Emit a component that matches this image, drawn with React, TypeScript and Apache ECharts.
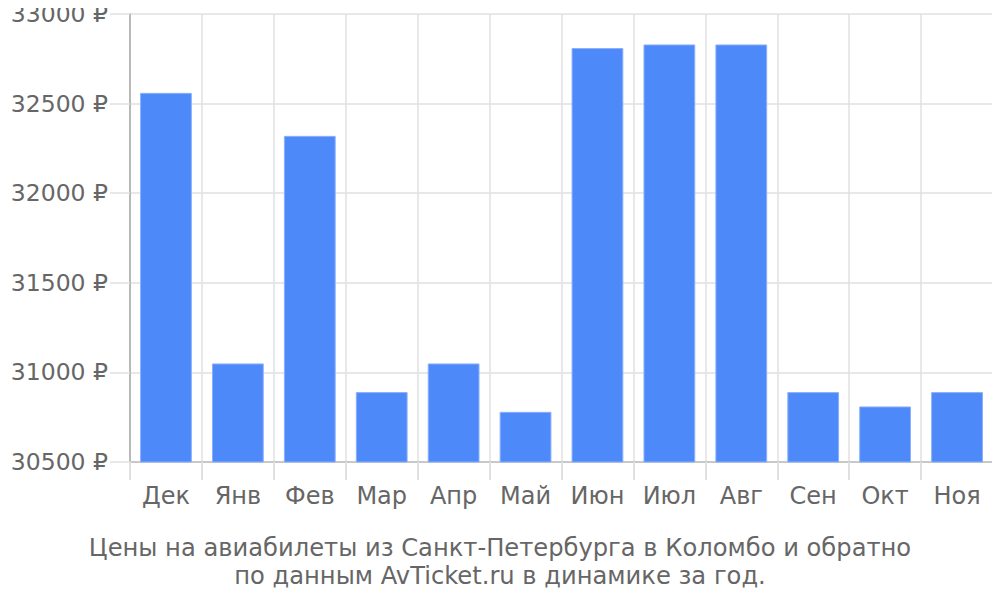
import { useEffect, useRef } from 'react';
import * as echarts from 'echarts';

const months = ['Дек', 'Янв', 'Фев', 'Мар', 'Апр', 'Май', 'Июн', 'Июл', 'Авг', 'Сен', 'Окт', 'Ноя'];
const prices = [32560, 31050, 32320, 30890, 31050, 30780, 32810, 32830, 32830, 30890, 30810, 30890];
const yMin = 30500;
const yMax = 33000;
const yStep = 500;
const titleLines = [
  'Цены на авиабилеты из Санкт-Петербурга в Коломбо и обратно',
  'по данным AvTicket.ru в динамике за год.',
];

const FONT = '"DejaVu Sans", sans-serif';

export default function App() {
  const chartRef = useRef<HTMLDivElement>(null);

  useEffect(() => {
    if (!chartRef.current) return;
    const chart = echarts.init(chartRef.current, undefined, { renderer: 'svg' });

    const option: echarts.EChartsOption = {
      animation: false,
      backgroundColor: '#ffffff',
      textStyle: { fontFamily: FONT },
      title: {
        text: titleLines.join('\n'),
        left: 'center',
        top: 529,
        textStyle: {
          color: '#666666',
          fontSize: 24.2,
          fontWeight: 'normal',
          fontFamily: FONT,
          lineHeight: 28,
          align: 'center',
        },
      },
      grid: { left: 130, right: 7, top: 14, bottom: 138 },
      xAxis: {
        type: 'category',
        data: months,
        axisLine: { lineStyle: { color: '#c8c8c8', width: 2 } },
        axisTick: { show: true, length: 18, interval: 0, lineStyle: { color: '#e0e0e0', width: 2 } },
        splitLine: { show: true, interval: 0, lineStyle: { color: '#e0e0e0', width: 1.5 } },
        axisLabel: { color: '#666666', fontSize: 24, fontFamily: FONT, margin: 22, interval: 0 },
      },
      yAxis: {
        type: 'value',
        min: yMin,
        max: yMax,
        interval: yStep,
        axisLine: { show: true, lineStyle: { color: '#aaaaaa', width: 1.5 } },
        axisTick: { show: true, length: 20, lineStyle: { color: '#e0e0e0', width: 1.5 } },
        splitLine: { show: true, lineStyle: { color: '#e0e0e0', width: 1.5 } },
        axisLabel: {
          color: '#666666',
          fontSize: 23.5,
          fontFamily: FONT,
          margin: 22,
          formatter: (v: number) => `${v} ₽`,
        },
      },
      series: [
        {
          type: 'bar',
          data: prices,
          barWidth: '72%',
          itemStyle: {
            color: '#4e89f9',
            borderColor: '#8ab0fb',
            borderWidth: 1,
          },
        },
      ],
    };

    chart.setOption(option);
    return () => chart.dispose();
  }, []);

  return <div ref={chartRef} style={{ width: 1000, height: 600, margin: -8 }} />;
}
